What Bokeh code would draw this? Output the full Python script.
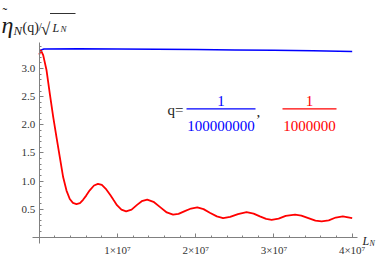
import numpy as np
from bokeh.plotting import figure
from bokeh.models import Range1d, LinearAxis, FixedTicker, Label, PrintfTickFormatter
from bokeh.embed import file_html
from bokeh.resources import INLINE

# ---------------- data ----------------
L_red_mln = [0.0, 0.2, 0.5, 0.93, 1.35, 1.78, 2.2, 2.63, 3.05, 3.48, 3.9, 4.3, 4.75,
             5.2, 5.6, 6.0, 6.45, 7.0, 7.5, 8.0, 8.57, 9.08, 9.5, 9.93, 10.5, 11.1,
             11.8, 12.5, 13.1, 13.8, 14.6, 15.45, 16.3, 17.1, 17.8, 18.6, 19.4, 20.2,
             21.0, 21.8, 22.7, 23.5, 24.4, 25.4, 26.5, 27.4, 28.2, 29.0, 29.7, 30.6,
             31.5, 32.7, 33.5, 34.4, 35.3, 36.1, 37.0, 37.9, 38.8, 40.0]
eta_red = [3.25, 3.33, 3.24, 2.97, 2.55, 2.14, 1.78, 1.42, 1.07, 0.83, 0.68, 0.61, 0.59,
           0.605, 0.665, 0.74, 0.835, 0.92, 0.95, 0.93, 0.85, 0.75, 0.66, 0.57, 0.49, 0.46,
           0.49, 0.575, 0.64, 0.67, 0.63, 0.535, 0.44, 0.40, 0.415, 0.465, 0.51, 0.53,
           0.50, 0.435, 0.37, 0.34, 0.36, 0.41, 0.445, 0.42, 0.37, 0.325, 0.31, 0.33,
           0.38, 0.40, 0.385, 0.34, 0.295, 0.28, 0.30, 0.35, 0.37, 0.34]

L_blue_mln = [0.0, 0.6, 5.0, 10.0, 15.0, 20.0, 25.0, 30.0, 35.0, 40.0]
eta_blue = [3.32, 3.35, 3.352, 3.35, 3.346, 3.34, 3.333, 3.325, 3.316, 3.305]

x_ticks = [1e7, 2e7, 3e7, 4e7]
x_tick_labels = ["1\u00d710\u2077", "2\u00d710\u2077", "3\u00d710\u2077", "4\u00d710\u2077"]
x_minor_step = 2e6
y_ticks = [0.5, 1.0, 1.5, 2.0, 2.5, 3.0]
y_minor_step = 0.1

q_numer = ["1", "1"]
q_denom = ["100000000", "1000000"]
q_colors = ["#0000ff", "#ff0000"]

# ---------------- geometry ----------------
W, H = 382, 256
PX_PER_L = 7.823e-6      # px per unit of L
PX_PER_Y = 56.2          # px per unit of eta
OX, OY = 38.77, 236.7    # px of the origin
X0, X1 = -OX / PX_PER_L, (W - OX) / PX_PER_L
Y0, Y1 = (OY - H) / PX_PER_Y, OY / PX_PER_Y


def fx(px):
    return X0 + px / W * (X1 - X0)


def fy(py):
    return Y1 - py / H * (Y1 - Y0)


p = figure(width=W, height=H, output_backend="svg", toolbar_location=None,
           x_range=Range1d(X0, X1), y_range=Range1d(Y0, Y1),
           x_axis_type=None, y_axis_type=None, min_border=0)
p.outline_line_color = None
p.background_fill_color = "white"

axis_col = "#808080"
lab_font = "Liberation Serif"

xaxis = LinearAxis(fixed_location=0, bounds=(fx(32), fx(357)),
                   ticker=FixedTicker(ticks=x_ticks,
                                      minor_ticks=list(np.arange(x_minor_step, 4.0001e7, x_minor_step))))
xaxis.major_label_overrides = {t: s for t, s in zip(x_ticks, x_tick_labels)}
yaxis = LinearAxis(fixed_location=0, bounds=(fy(243), fy(42)),
                   ticker=FixedTicker(ticks=y_ticks,
                                      minor_ticks=list(np.round(np.arange(y_minor_step, 3.41, y_minor_step), 2))),
                   formatter=PrintfTickFormatter(format="%.1f"))
for ax in (xaxis, yaxis):
    ax.axis_line_color = axis_col
    ax.major_tick_line_color = axis_col
    ax.minor_tick_line_color = axis_col
    ax.major_tick_in = 4
    ax.major_tick_out = 0
    ax.minor_tick_in = 2
    ax.minor_tick_out = 0
    ax.major_label_text_font = lab_font
    ax.major_label_text_font_size = "11px"
    ax.major_label_text_color = "#333333"
xaxis.major_label_standoff = 7
yaxis.major_label_standoff = 4
p.add_layout(xaxis, "below")
p.add_layout(yaxis, "left")

# curves
p.line(np.array(L_blue_mln) * 1e6, eta_blue, line_color="#0000ff", line_width=1.5)
p.line(np.array(L_red_mln) * 1e6, eta_red, line_color="#ff0000", line_width=1.8)

# ---------------- legend text "q = 1/100000000, 1/1000000" ----------------
def lab(px, py, txt, size, color="#222222", align="left", italic=False):
    p.add_layout(Label(x=fx(px), y=fy(py), text=txt, text_font=lab_font,
                       text_font_size=size, text_color=color, text_align=align,
                       text_font_style="italic" if italic else "normal",
                       text_baseline="alphabetic"))


lab(183, 109.5, "q=", "15px", align="right")
centers = [220.5, 309.0]
bars = [(186, 255), (282, 336)]
for c, (b0, b1), num, den, col in zip(centers, bars, q_numer, q_denom, q_colors):
    lab(c, 100.5, num, "15px", color=col, align="center")
    lab(c, 125.5, den, "15px", color=col, align="center")
    p.segment(x0=[fx(b0)], y0=[fy(108.3)], x1=[fx(b1)], y1=[fy(108.3)],
              line_color=col, line_width=1.2)
lab(256, 111, ",", "15px")

# ---------------- axis label L_N ----------------
lab(362, 240.5, "L", "12px", italic=True)
lab(369, 243, "N", "8px", italic=True)

# ---------------- title  eta~_N(q)/sqrt(L_N) ----------------
tc = "#1a1a1a"
lab(2, 13, "\u02dc", "14px", color=tc)
lab(1, 24, "\u03b7", "24px", color=tc, italic=True)
lab(13, 29.5, "N", "13px", color=tc, italic=True)
lab(22, 26.5, "(q)", "14px", color=tc)
lab(38, 26, "/", "12px", color=tc)
lab(40.5, 28.5, "\u221a", "17px", color=tc)
p.segment(x0=[fx(49.5)], y0=[fy(13)], x1=[fx(75)], y1=[fy(13)],
          line_color=tc, line_width=0.9)
lab(52, 27, "L", "12px", color=tc, italic=True)
lab(60, 28.5, "N", "9px", color=tc, italic=True)

open("out.html", "w").write(file_html(p, INLINE))
